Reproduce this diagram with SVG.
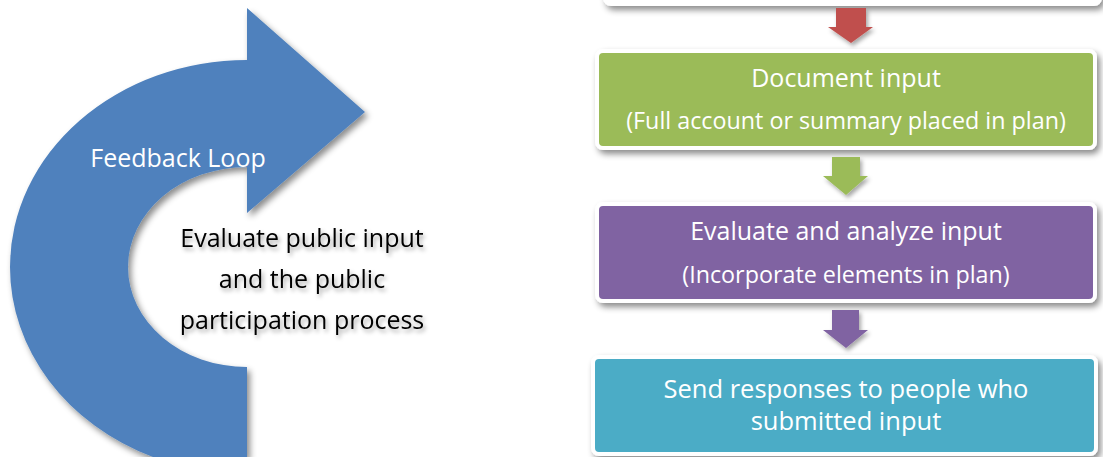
<svg xmlns="http://www.w3.org/2000/svg" width="1103" height="457" viewBox="0 0 1103 457">
<defs>
<filter id="sh" x="-10%" y="-10%" width="130%" height="140%">
<feDropShadow dx="3" dy="4" stdDeviation="3" flood-color="#000" flood-opacity="0.45"/>
</filter>
<filter id="tsh" x="-10%" y="-20%" width="130%" height="160%">
<feDropShadow dx="2" dy="3" stdDeviation="2" flood-color="#000" flood-opacity="0.35"/>
</filter>
<style>
.t{font-family:"Open Sans","DejaVu Sans",sans-serif;text-anchor:middle;}
.w{fill:#fff;}
.box{stroke:#fff;stroke-width:4;filter:url(#sh);}
</style>
</defs>
<rect width="1103" height="457" fill="#fff"/>

<g id="loop">
<path d="M247 60 A237 207 0 0 0 10 267 A237 207 0 0 0 153 457 L247 457 L247 367 A119 100 0 0 1 128 267 A119 100 0 0 1 247 167 L247 213 L365 112 L247 8 Z" fill="#4F81BD" filter="url(#sh)"/>
<text class="t w" x="178" y="167" font-size="25">Feedback Loop</text>
</g>

<g id="loop-label" filter="url(#tsh)">
<text class="t" x="302" y="247" font-size="25" fill="#000">Evaluate public input</text>
<text class="t" x="302" y="288" font-size="25" fill="#000">and the public</text>
<text class="t" x="302" y="329" font-size="25" fill="#000">participation process</text>
</g>

<g id="top-box">
<rect class="box" x="605" y="-40" width="495" height="44" rx="6" fill="#fff"/>
</g>

<g id="document-input">
<rect class="box" x="597" y="51" width="498" height="97" rx="6" fill="#9BBB59"/>
<text class="t w" x="846" y="87" font-size="25">Document input</text>
<text class="t w" x="846" y="129" font-size="23.3">(Full account or summary placed in plan)</text>
</g>

<g id="evaluate-input">
<rect class="box" x="597" y="204" width="498" height="97" rx="6" fill="#8064A2"/>
<text class="t w" x="846" y="240" font-size="25">Evaluate and analyze input</text>
<text class="t w" x="846" y="283" font-size="23.3">(Incorporate elements in plan)</text>
</g>

<g id="send-responses">
<rect class="box" x="593" y="357" width="503" height="97" rx="6" fill="#4BACC6"/>
<text class="t w" x="846" y="398" font-size="25.5">Send responses to people who</text>
<text class="t w" x="846" y="430" font-size="25.5">submitted input</text>
</g>

<g id="connectors" filter="url(#tsh)">
<path d="M836 8 L866 8 L866 27 L873 27 L851 43 L828 27 L836 27 Z" fill="#C0504D"/>
<path d="M832 157 L860 157 L860 176 L868 176 L846 195 L823 176 L832 176 Z" fill="#9BBB59"/>
<path d="M832 310 L859 310 L859 330 L868 330 L846 348 L823 330 L832 330 Z" fill="#8064A2"/>
</g>
</svg>
